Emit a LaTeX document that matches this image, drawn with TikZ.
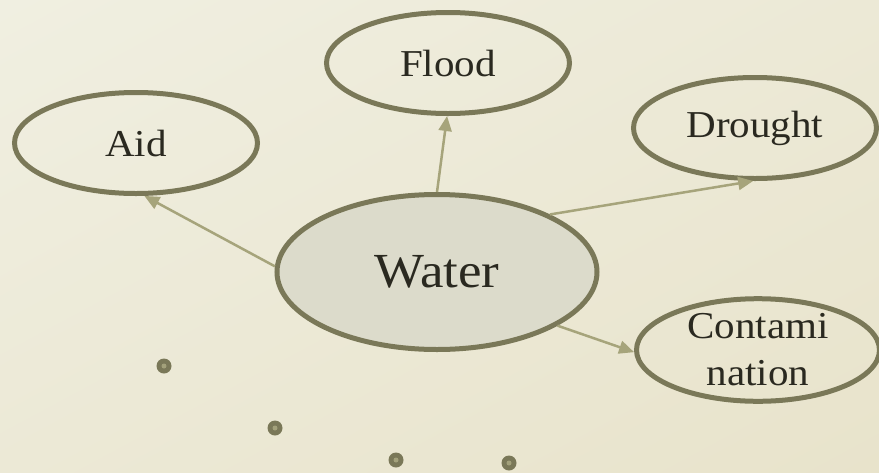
\documentclass[tikz,border=0pt]{standalone}
\usepackage{fontspec}
\setmainfont{Liberation Serif}[FakeStretch=1.08]
\usetikzlibrary{shapes.geometric,arrows.meta,shadings}
\definecolor{bgA}{HTML}{F0EFE1}
\definecolor{bgB}{HTML}{E8E3CB}
\definecolor{rim}{HTML}{7A7858}
\definecolor{arr}{HTML}{A6A47B}
\definecolor{core}{HTML}{DCDBCB}
\definecolor{ink}{HTML}{2A2920}
\definecolor{pip}{HTML}{A3A17B}
\tikzset{
  bubble/.style={ellipse, draw=rim, line width=5pt, inner sep=0pt,
    minimum width=243pt, minimum height=101pt, text=ink, align=center,
    font=\fontsize{38}{47}\selectfont},
  hub/.style={bubble, fill=core, minimum width=320pt, minimum height=155pt,
    font=\fontsize{49}{56}\selectfont},
  link/.style={draw=arr, line width=2.5pt, -{Triangle[length=15pt,width=13pt]}},
  dotmark/.style={circle, fill=rim, minimum size=15pt, inner sep=0pt},
  dotcore/.style={circle, fill=pip, minimum size=5pt, inner sep=0pt}
}
\begin{document}
\begin{tikzpicture}[x=1pt,y=-1pt]
\shade[upper left=bgA, lower right=bgB, upper right=bgA!50!bgB, lower left=bgA!50!bgB] (0,0) rectangle (879,472);
\useasboundingbox (0,0) rectangle (879,472);

\node[hub] (water) at (437,272) {Water};
\node[bubble] (aid) at (136,143) {Aid};
\node[bubble] (flood) at (448,63) {Flood};
\node[bubble] (drought) at (755,128) {Drought};
\node[bubble] (contam) at (758,350) {Contami\\nation};

\draw[link] (water.178.6) -- (aid.-81);
\draw[link] (water.90) -- (flood.-91);
\draw[link] (water.27.2) -- (drought.-92);
\draw[link] (water.-24.3) -- (contam.181);

\foreach \n/\p in {d1/{(164,366)}, d2/{(275,428)}, d3/{(396,460)}, d4/{(509,463)}} {
  \node[dotmark] (\n) at \p {};
  \node[dotcore] (\n c) at \p {};
}
\end{tikzpicture}
\end{document}
